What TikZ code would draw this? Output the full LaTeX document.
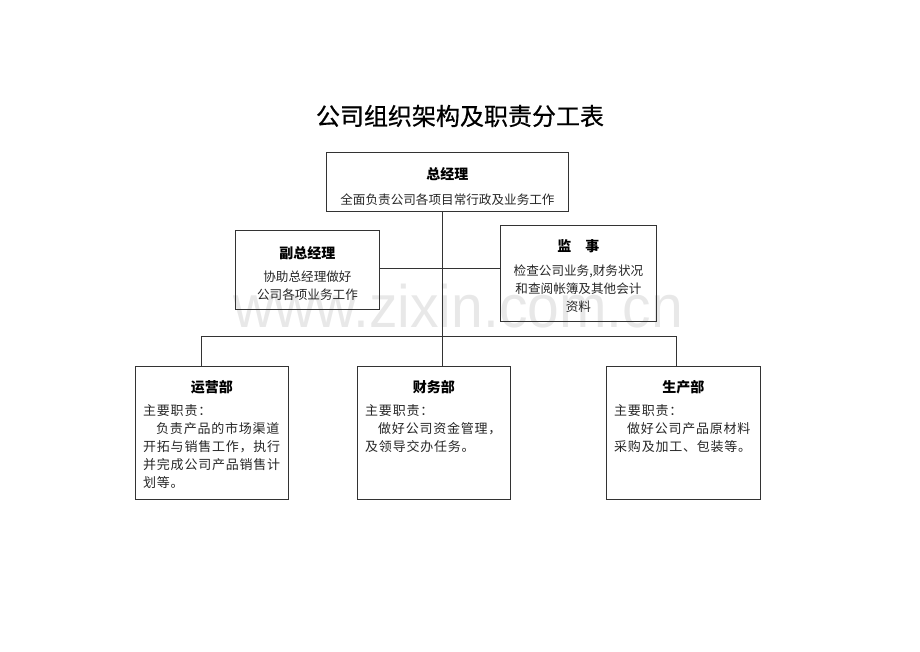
\documentclass[tikz,border=0pt]{standalone}
\usepackage{fontspec}
\setmainfont{Liberation Sans}
\newfontfamily\cjk{Noto Sans CJK SC}
\newfontfamily\cjkwide{Noto Sans CJK SC}[LetterSpace=6]
\newfontfamily\cjkhead{Noto Sans CJK SC}[FakeBold=0.6]
\usetikzlibrary{calc,positioning}

\tikzset{
  orgbox/.style={draw=black!80, line width=0.9pt, inner sep=0pt, anchor=north west},
  boxtitle/.style={font=\cjk\bfseries\fontsize{14}{16}\selectfont},
  boxtext/.style={font=\cjk\fontsize{12.6}{18}\selectfont, text=black!85, inner sep=0pt},
  dutytext/.style={boxtext, font=\cjkwide\fontsize{13}{18}\selectfont, anchor=north west, align=left},
  link/.style={draw=black!80, line width=0.9pt}
}

\begin{document}
\begin{tikzpicture}[x=1pt, y=-1pt]
	%%%%% START %%%%%
	\useasboundingbox (0,0) rectangle (920,651);
	
	% watermark
	\node[font=\fontsize{60}{60}\selectfont, text=black!9, anchor=base, xscale=0.95] (wm) at (458,327) {www.zixin.com.cn};
	
	\node[font=\cjkhead\fontsize{24}{28}\selectfont] (title) at (460,116) {公司组织架构及职责分工表};
	
	% top
	\node[orgbox, minimum width=242pt, minimum height=59pt] (zjl) at (326,152) {};
	\node[boxtitle] at ($(zjl.north)+(0,22)$) {总经理};
	\node[boxtext] at ($(zjl.north)+(0,48)$) {全面负责公司各项目常行政及业务工作};
	
	\node[orgbox, minimum width=144pt, minimum height=79pt] (fzjl) at (235,230) {};
	\node[boxtitle] at ($(fzjl.north)+(0,23)$) {副总经理};
	\node[boxtext, align=center] at ($(fzjl.north)+(0,56)$) {协助总经理做好\\公司各项业务工作};
	
	\node[orgbox, minimum width=156pt, minimum height=96pt] (js) at (500,225) {};
	\node[boxtitle] at ($(js.north)+(0,21)$) {监　事};
	\node[boxtext, align=center] at ($(js.north)+(0,63.5)$) {检查公司业务,财务状况\\和查阅帐簿及其他会计\\资料};
	
	% departments
	\node[orgbox, minimum width=153pt, minimum height=133pt] (yyb) at (135,366) {};
	\node[boxtitle] at ($(yyb.north)+(0,21)$) {运营部};
	\node[dutytext] at ($(yyb.north west)+(8,38)$) {主要职责：\\\hspace*{1em}负责产品的市场渠道\\开拓与销售工作，执行\\并完成公司产品销售计\\划等。};
	
	\node[orgbox, minimum width=153pt, minimum height=133pt] (cwb) at (357,366) {};
	\node[boxtitle] at ($(cwb.north)+(0,21)$) {财务部};
	\node[dutytext] at ($(cwb.north west)+(8,38)$) {主要职责：\\\hspace*{1em}做好公司资金管理，\\及领导交办任务。};
	
	\node[orgbox, minimum width=154pt, minimum height=133pt] (scb) at (606,366) {};
	\node[boxtitle] at ($(scb.north)+(0,21)$) {生产部};
	\node[dutytext] at ($(scb.north west)+(8,38)$) {主要职责：\\\hspace*{1em}做好公司产品原材料\\采购及加工、包装等。};
	
	% lines
	\coordinate (jn) at (442,268);
	\coordinate (bl) at (201,336);
	\coordinate (br) at (676,336);
	\draw[link] (zjl.south -| jn) -- (cwb.north -| jn);
	\draw[link] (fzjl.east |- jn) -- (js.west |- jn);
	\draw[link] (yyb.north -| bl) -- (bl) -- (br) -- (scb.north -| br);
	
	%%%%% END %%%%%
\end{tikzpicture}
\end{document}
